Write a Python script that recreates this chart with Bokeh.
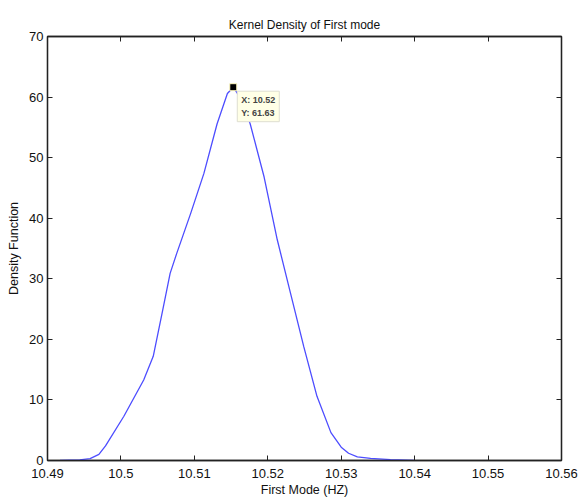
from bokeh.plotting import figure
from bokeh.models import LinearAxis, FixedTicker, Label, CustomJSTickFormatter
from bokeh.embed import file_html
from bokeh.resources import INLINE

# data
freq = [10.4917, 10.4944, 10.4958, 10.4970, 10.4979, 10.5004, 10.5031, 10.5044,
        10.5056, 10.5067, 10.5076, 10.5095, 10.5113, 10.5131, 10.5145, 10.5153,
        10.5162, 10.5176, 10.5195, 10.5213, 10.5231, 10.5249, 10.5267, 10.5286,
        10.5300, 10.5310, 10.5322, 10.5340, 10.5367, 10.5399]
density = [0.0, 0.1, 0.3, 1.0, 2.4, 7.3, 13.3, 17.2, 24.3, 30.9, 34.2, 40.8,
           47.4, 55.6, 60.6, 61.63, 60.0, 55.6, 46.8, 36.4, 27.6, 18.8, 10.6,
           4.6, 2.2, 1.2, 0.6, 0.35, 0.16, 0.0]
peak_x = 10.5153
peak_y = 61.63
x_ticks = [10.49, 10.50, 10.51, 10.52, 10.53, 10.54, 10.55, 10.56]
x_tick_labels = ["10.49", "10.5", "10.51", "10.52", "10.53", "10.54", "10.55", "10.56"]
y_ticks = [0, 10, 20, 30, 40, 50, 60, 70]

FONT = "Liberation Sans"
AX = "#222222"

p = figure(width=579, height=499, output_backend="svg", toolbar_location=None,
           x_range=(10.49, 10.56), y_range=(0, 70),
           min_border_left=47, min_border_right=18, min_border_top=36, min_border_bottom=38,
           background_fill_color="white", border_fill_color="white")
p.title.text = "Kernel Density of First mode"
p.title.align = "center"
p.title.text_font = FONT
p.title.text_font_style = "normal"
p.title.text_font_size = "12px"
p.title.text_color = "#111111"
p.title.standoff = 10
p.outline_line_color = AX
p.outline_line_width = 1.3
p.grid.visible = False

p.line(freq, density, line_color="#4d4dff", line_width=1.3)
p.scatter([peak_x], [peak_y], marker="square", size=7, fill_color="black",
          line_color="#fff8c0", line_width=1)
p.add_layout(Label(x=peak_x, y=peak_y, x_offset=4, y_offset=-4,
                   text=f"X: {peak_x:.2f}\nY: {peak_y:.2f}",
                   text_font=FONT, text_font_size="9px", text_font_style="bold",
                   text_color="#444444", anchor="top_left", text_line_height=1.25,
                   background_fill_color="#ffffe6", border_line_color="#deded0",
                   padding=4))

xa = p.below[0]
xa.ticker = FixedTicker(ticks=x_ticks)
xa.major_label_overrides = {t: l for t, l in zip(x_ticks, x_tick_labels)}
xa.axis_label = "First Mode (HZ)"
xa.major_label_standoff = 8
xa.axis_label_standoff = 2

ya = p.left[0]
ya.ticker = FixedTicker(ticks=y_ticks)
ya.axis_label = "Density Function"
ya.major_label_standoff = 4
ya.axis_label_standoff = 5

blank = "return ''"
top_ax = LinearAxis(ticker=FixedTicker(ticks=x_ticks),
                    formatter=CustomJSTickFormatter(code=blank), major_label_standoff=0)
right_ax = LinearAxis(ticker=FixedTicker(ticks=y_ticks),
                      formatter=CustomJSTickFormatter(code=blank), major_label_standoff=0)
p.add_layout(top_ax, "above")
p.add_layout(right_ax, "right")

for ax in p.axis:
    ax.major_tick_in = 5
    ax.major_tick_out = 0
    ax.minor_tick_line_color = None
    ax.axis_line_color = AX
    ax.axis_line_width = 1.3
    ax.major_tick_line_color = AX
    ax.major_label_text_font = FONT
    ax.major_label_text_font_size = "13px"
    ax.major_label_text_color = "#111111"
    ax.axis_label_text_font = FONT
    ax.axis_label_text_font_style = "normal"
    ax.axis_label_text_font_size = "12.5px"
    ax.axis_label_text_color = "#111111"

open("out.html", "w").write(file_html(p, INLINE))
